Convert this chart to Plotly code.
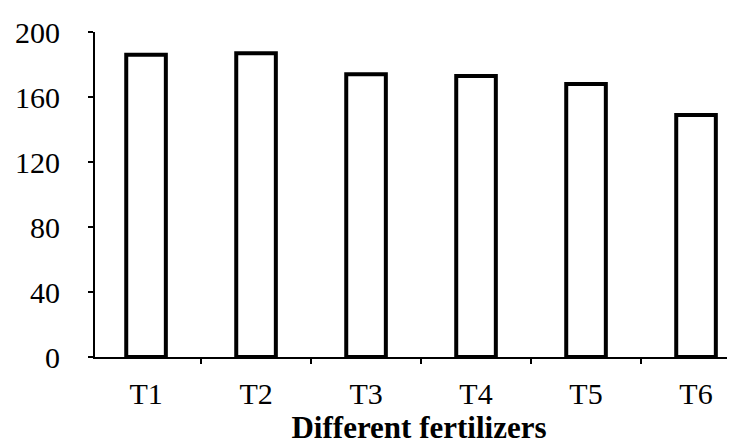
import plotly.graph_objects as go

categories = ["T1", "T2", "T3", "T4", "T5", "T6"]
values = [186, 187, 174, 173, 168, 149]
y_ticks = [0, 40, 80, 120, 160, 200]
x_title = "Different fertilizers"

fig = go.Figure(go.Bar(
    x=categories, y=values,
    marker=dict(color="white", line=dict(color="black", width=4)),
))

fig.update_layout(
    width=735, height=444,
    margin=dict(l=87, r=0, t=24, b=95, autoexpand=False),
    paper_bgcolor="white", plot_bgcolor="white",
    bargap=0.64,
    showlegend=False,
    font=dict(family="Liberation Serif", size=30, color="black"),
)
fig.update_yaxes(
    range=[0, 200], tickvals=y_ticks, showgrid=False, zeroline=False,
    showline=True, linecolor="black", linewidth=2,
    ticks="outside", ticklen=5, tickcolor="black", tickwidth=2,
    ticklabelstandoff=22, automargin=False,
)
fig.update_xaxes(
    range=[-0.464, 5.427],
    showgrid=False, showline=True, linecolor="black", linewidth=2,
    ticks="outside", tickson="boundaries", ticklen=5, tickcolor="black", tickwidth=2,
    ticklabelstandoff=9, automargin=False,
    title=dict(text="<b>" + x_title + "</b>", font=dict(size=31), standoff=6),
)

fig.write_html("out.html")
